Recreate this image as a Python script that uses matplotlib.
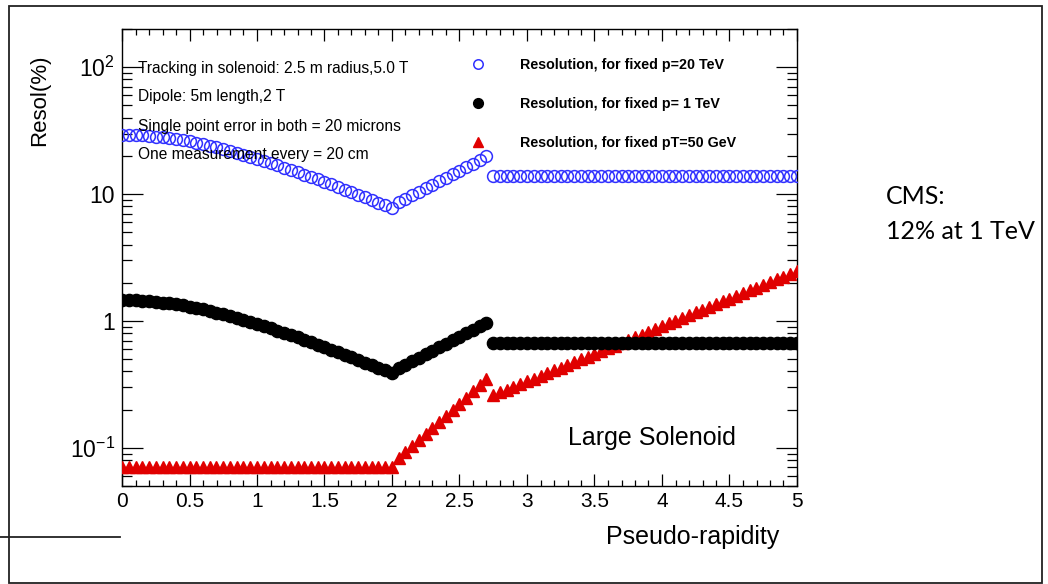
import numpy as np
import matplotlib
matplotlib.use("Agg")
import matplotlib.pyplot as plt
from matplotlib.patches import Rectangle
from matplotlib.ticker import FixedLocator, FixedFormatter, MultipleLocator, LogLocator, NullFormatter

plt.rcParams['font.family'] = ['Liberation Sans', 'DejaVu Sans']

# pseudo-rapidity grid: solenoid region, transition, dipole region
eta_sol = np.round(np.arange(0.0, 2.0001, 0.05), 2)
eta_mid = np.round(np.arange(2.05, 2.7001, 0.05), 2)
eta_dip = np.round(np.arange(2.75, 5.0001, 0.05), 2)

# resolution (%) for fixed p = 20 TeV
p20_sol = [29.3, 29.26, 29.15, 28.97, 28.72, 28.41, 28.03, 27.59, 27.10, 26.56,
           25.98, 25.37, 24.72, 24.04, 23.34, 22.63, 21.91, 21.18, 20.45, 19.71,
           18.99, 18.27, 17.56, 16.86, 16.18, 15.52, 14.87, 14.24, 13.62, 13.03,
           12.46, 11.90, 11.37, 10.85, 10.36, 9.88, 9.43, 8.99, 8.57, 8.17, 7.79]
p20_mid = [8.61, 9.18, 9.79, 10.43, 11.12, 11.86, 12.64, 13.48, 14.37, 15.32,
           16.33, 17.41, 18.56, 19.79]
p20_dip = [13.8] * 46

# resolution (%) for fixed p = 1 TeV
p1_sol = [1.460, 1.458, 1.453, 1.444, 1.431, 1.416, 1.397, 1.375, 1.350, 1.324,
          1.295, 1.264, 1.232, 1.198, 1.163, 1.128, 1.092, 1.055, 1.019, 0.982,
          0.946, 0.910, 0.875, 0.840, 0.806, 0.773, 0.741, 0.709, 0.679, 0.649,
          0.621, 0.593, 0.566, 0.541, 0.516, 0.493, 0.470, 0.448, 0.427, 0.407, 0.388]
p1_mid = [0.423, 0.451, 0.481, 0.513, 0.546, 0.582, 0.621, 0.662, 0.705, 0.752,
          0.802, 0.855, 0.910, 0.971]
p1_dip = [0.67] * 46

# resolution (%) for fixed pT = 50 GeV
pt50_sol = [0.071] * 41
pt50_mid = [0.0824, 0.0920, 0.1028, 0.1148, 0.1282, 0.1432, 0.160, 0.1786, 0.1995,
            0.2228, 0.2489, 0.278, 0.3105, 0.3467]
pt50_dip = [0.260, 0.2733, 0.2874, 0.3021, 0.3176, 0.3339, 0.3510, 0.3690, 0.3880,
            0.4079, 0.4288, 0.4508, 0.4739, 0.4982, 0.5238, 0.5507, 0.5789, 0.6086,
            0.6398, 0.6727, 0.7072, 0.7435, 0.7816, 0.8217, 0.8638, 0.9081, 0.9547,
            1.0037, 1.0552, 1.1093, 1.1662, 1.2260, 1.2889, 1.3550, 1.4245, 1.4976,
            1.5744, 1.6552, 1.7401, 1.8293, 1.9232, 2.0218, 2.1255, 2.2346, 2.3492,
            2.4697]

labels = ['Resolution, for fixed p=20 TeV',
          'Resolution, for fixed p= 1 TeV',
          'Resolution, for fixed pT=50 GeV']
notes = ['Tracking in solenoid: 2.5 m radius,5.0 T',
         'Dipole: 5m length,2 T',
         'Single point error in both = 20 microns',
         'One measurement every = 20 cm']

W, H = 1048, 584
fig = plt.figure(figsize=(W / 100, H / 100), dpi=100)
ax = fig.add_axes([122 / W, 1 - 486 / H, (797 - 122) / W, (486 - 29) / H])

eta = np.concatenate([eta_sol, eta_mid, eta_dip])
blue = np.concatenate([p20_sol, p20_mid, p20_dip])
black = np.concatenate([p1_sol, p1_mid, p1_dip])
red = np.concatenate([pt50_sol, pt50_mid, pt50_dip])

ax.plot(eta, red, ls='none', marker='^', ms=8.5, mfc='#e00000', mec='#e00000',
        label=labels[2], zorder=3)
ax.plot(eta, black, ls='none', marker='o', ms=8.8, mfc='black', mec='black',
        label=labels[1], zorder=4)
ax.plot(eta, blue, ls='none', marker='o', ms=8.5, mfc='none', mec='#3030ff',
        mew=1.1, label=labels[0], zorder=5)

ax.set_yscale('log')
ax.set_xlim(0, 5)
ax.set_ylim(0.05, 200)

ax.xaxis.set_major_locator(FixedLocator(np.arange(0, 5.01, 0.5)))
ax.xaxis.set_major_formatter(FixedFormatter(['0', '0.5', '1', '1.5', '2', '2.5', '3', '3.5', '4', '4.5', '5']))
ax.xaxis.set_minor_locator(MultipleLocator(0.1))
ax.yaxis.set_major_locator(FixedLocator([0.1, 1, 10, 100]))
ax.yaxis.set_major_formatter(FixedFormatter([r'$\mathregular{10^{-1}}$', '1', '10', r'$\mathregular{10^{2}}$']))
ax.yaxis.set_minor_locator(LogLocator(base=10, subs=np.arange(2, 10)))
ax.yaxis.set_minor_formatter(NullFormatter())

ax.tick_params(which='both', direction='in', top=True, right=True, width=0.9)
ax.tick_params(axis='x', which='major', length=8.6, pad=4, labelsize=15)
ax.tick_params(axis='x', which='minor', length=4.3)
ax.tick_params(axis='y', which='major', length=15, pad=5, labelsize=16.5)
ax.tick_params(axis='y', which='minor', length=7)
for s in ax.spines.values():
    s.set_linewidth(1.0)

fig.text(40 / W, 1 - 100 / H, 'Resol(%)', rotation=90, ha='center', va='center', fontsize=16)
fig.text(779 / W, 1 - 537 / H, 'Pseudo-rapidity', ha='right', va='center', fontsize=18)

for i, t in enumerate(notes):
    fig.text(138 / W, 1 - (68 + 29 * i) / H, t, ha='left', va='center', fontsize=11.2)

h, l = ax.get_legend_handles_labels()
order = [2, 1, 0]
ax.legend([h[i] for i in order], [l[i] for i in order], loc='upper left',
          bbox_to_anchor=(464 / W, 1 - 51 / H), bbox_transform=fig.transFigure,
          frameon=False, borderpad=0, handlelength=1.0, handletextpad=2.4,
          labelspacing=1.75, markerscale=0.8, prop={'weight': 'bold', 'size': 10.3})

ax.text(0.785, 0.105, 'Large Solenoid', transform=ax.transAxes, ha='center', va='center', fontsize=18)

fig.text(886 / W, 1 - 197 / H, 'CMS:', fontsize=18, family=['Lato', 'DejaVu Sans'], va='center')
fig.text(886 / W, 1 - 231 / H, '12% at 1 TeV', fontsize=18, family=['Lato', 'DejaVu Sans'], va='center')

# slide frame around the figure
fig.add_artist(Rectangle((9 / W, 1 / H), (1042 - 9) / W, (578 - 1) / H, transform=fig.transFigure,
                         fill=False, lw=1.3, ec='#222222'))
fig.add_artist(plt.Line2D([0, 120 / W], [1 - 537 / H, 1 - 537 / H], transform=fig.transFigure,
                          color='#222222', lw=1.3))

fig.savefig('out.png', dpi=100)
